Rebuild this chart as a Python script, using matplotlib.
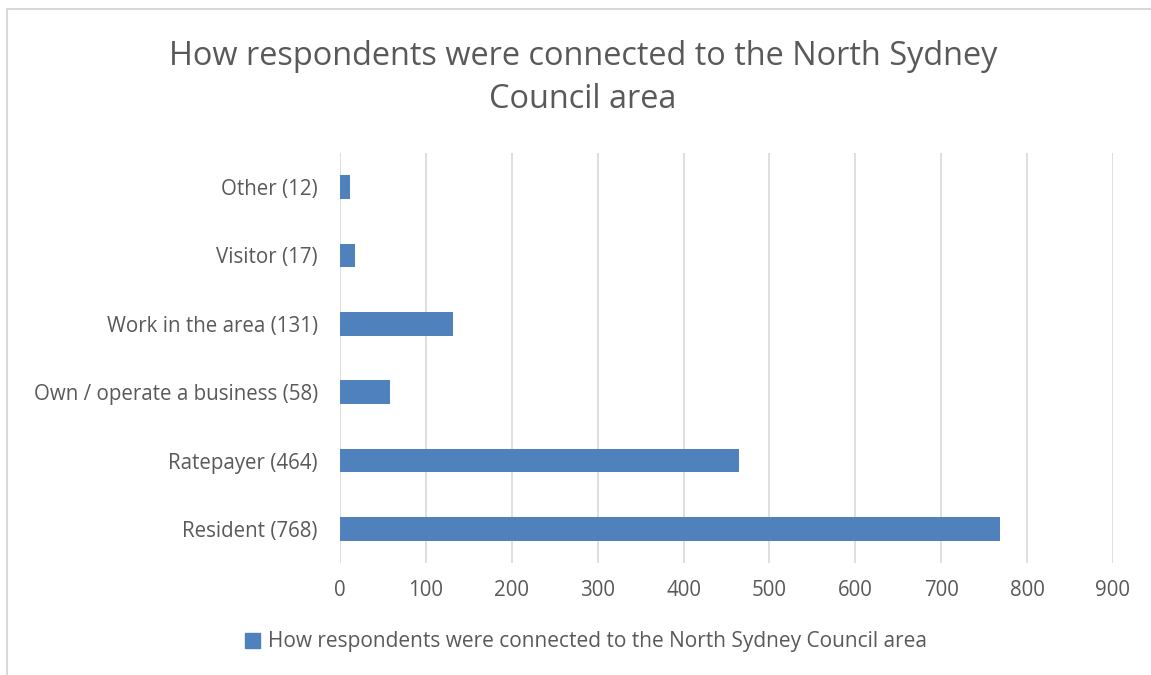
import matplotlib.pyplot as plt
from matplotlib.patches import Rectangle, Patch

categories = ['Resident (768)', 'Ratepayer (464)', 'Own / operate a business (58)',
              'Work in the area (131)', 'Visitor (17)', 'Other (12)']
values = [768, 464, 58, 131, 17, 12]
series_name = 'How respondents were connected to the North Sydney Council area'
ticks = [0, 100, 200, 300, 400, 500, 600, 700, 800, 900]

plt.rcParams['font.family'] = ['Open Sans', 'DejaVu Sans']
text_col = '#595959'
bar_col = '#4F81BD'

fig = plt.figure(figsize=(11.51, 6.75), dpi=100)
ax = fig.add_axes([340/1151, 1-563/675, (1113-340)/1151, (563-153)/675])

ax.barh(range(len(values)), values, height=0.35, color=bar_col, zorder=3)
ax.set_xlim(0, 900)
ax.set_ylim(-0.5, len(values) - 0.5)
ax.set_xticks(ticks)
ax.set_yticks(range(len(values)))
ax.set_yticklabels(categories)
ax.xaxis.grid(True, color='#D9D9D9', linewidth=1.2, zorder=0)
for s in ax.spines.values():
    s.set_visible(False)
ax.tick_params(length=0, labelsize=14.8, colors=text_col)
ax.tick_params(axis='x', pad=12)
ax.tick_params(axis='y', pad=16)

fig.text(583/1151, 1-78/675, 'How respondents were connected to the North Sydney\nCouncil area',
         ha='center', va='center', fontsize=23.4, color=text_col, linespacing=1.42)

fig.legend(handles=[Patch(color=bar_col, label=series_name)], loc='center',
           bbox_to_anchor=(586/1151, 1-642/675), frameon=False, fontsize=15,
           handlelength=0.7, handleheight=0.7, handletextpad=0.4,
           labelcolor=text_col)

fig.patches.append(Rectangle((7/1151, -0.1), 1.2, 1 - 9/675 + 0.1, transform=fig.transFigure,
                             fill=False, edgecolor='#D9D9D9', linewidth=1.5))

fig.savefig('out.png', dpi=100)
